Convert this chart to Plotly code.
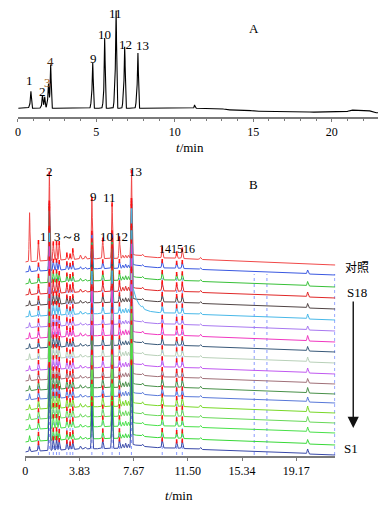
import numpy as np
import plotly.graph_objects as go

# ---------------- data: panel A (reference chromatogram) ----------------
a_times = [0.83, 1.57, 1.71, 1.95, 2.09, 4.77, 5.53, 6.26, 6.81, 7.65, 11.26]
a_heights = [16, 11.5, 11, 21, 41.6, 43, 67.6, 91, 57, 51.6, 3.3]
a_shoulders = [3, 2, 2, 5, 7, 9, 9, 23, 15, 12, 0]
a_labels = ["1", "2", "3", "4", "9", "10", "11", "12", "13"]
a_label_t = [0.75, 1.55, 1.88, 2.07, 4.79, 5.55, 6.25, 6.88, 7.95]
a_label_v = [28.3, 17.3, 26.3, 47.3, 50.3, 74.3, 95.3, 64.3, 63.3]
a_drift_t = [0, 12.9, 13.3, 14.7, 15.1, 18.3, 18.6, 20.9, 21.2, 22.3, 22.7, 22.95]
a_drift_v = [0, 0, -1.5, -1.8, -3.0, -3.0, -3.8, -3.8, -1.8, -1.8, -4.5, -4.5]
a_ticks = [0, 5, 10, 15, 20]

# ---------------- data: panel B (fingerprints) ----------------
b_names = ["对照", "S18", "S17", "S16", "S15", "S14", "S13", "S12", "S11", "S10",
           "S9", "S8", "S7", "S6", "S5", "S4", "S3", "S2", "S1"]
b_times = [0.93, 1.70, 1.98, 2.21, 2.40, 2.94, 3.17, 3.36, 4.71, 5.48,
           6.14, 6.66, 7.51, 9.69, 10.71, 11.11]
b_ref_heights = [19, 87, 17, 17, 17, 5, 4, 9, 60, 19, 54, 20, 87, 10, 5, 9]
b_sample_heights = [8, 85, 12, 12, 10, 8, 6, 8, 45, 9, 45, 9, 85, 9, 7, 8]
b_sample_scale = [0.8, 0.9, 1.0, 0.9, 1.0, 0.8, 1.1, 0.9, 1.0, 1.0,
                  0.9, 1.1, 1.0, 1.2, 1.1, 1.0, 0.9, 1.0]
b_spike_time = 0.30
b_spike_heights = [49, 6, 5, 6, 5, 6, 5, 6, 5, 6, 5, 6, 5, 6, 5, 6, 5, 6, 5]
b_minor_times = [3.9, 4.25, 6.9, 7.1, 7.3, 8.3, 12.4, 19.98]
b_minor_ref = [4, 3, 3, 3, 3, 2, 2, 0]
b_minor_sample = [3, 2, 4, 5, 4, 2, 2, 5]
b_drift_t = [0, 1, 4, 8, 11, 14, 17, 20, 21.95]
b_drift_v = [3, 4, 6, 7, 6.5, 4.5, 2.5, 1, 0]
b_extra_lines = [16.2, 17.1, 21.9]
b_tickvals = [0, 3.834, 7.668, 11.502, 15.336, 19.17]
b_ticktext = ["0", "3.83", "7.67", "11.50", "15.34", "19.17"]
b_labels = ["1", "2", "3～8", "9", "11", "10", "12", "13", "14", "15", "16"]
b_label_t = [1.26, 1.72, 2.98, 4.86, 5.98, 5.72, 6.78, 7.83, 9.87, 10.71, 11.55]
b_label_v = [219, 284, 219, 259, 258, 219, 219, 284, 206, 206, 206]

# ---------------- style ----------------
W, H = 384, 506
SERIF = "Liberation Serif, Times New Roman, serif"
b_colors = ["#f04848", "#3a58e0", "#38c038", "#e02828", "#504444", "#48b8e8",
            "#a878f0", "#f038c0", "#385878", "#b8d0b8", "#c058f0", "#a07078",
            "#489048", "#5878d8", "#78d828", "#68d858", "#48e048", "#38d838", "#3848a8"]
b_offsets = [190, 180, 168, 157, 146, 135, 124, 113, 103, 92, 81, 71, 61, 52, 42, 32, 22, 10, 0]


def gauss(t, c, h, s):
    return h * np.exp(-0.5 * ((t - c) / s) ** 2)


fig = go.Figure()

# ---- panel A curve ----
tA = np.arange(0.03, 22.95, 0.005)
yA = np.interp(tA, a_drift_t, a_drift_v)
for c, h, sh in zip(a_times, a_heights, a_shoulders):
    yA = yA + gauss(tA, c, h, 0.03)
    if sh:
        yA = yA + gauss(tA, c - 0.07, sh, 0.045)
fig.add_trace(go.Scatter(x=tA, y=yA, mode="lines", line=dict(color="#000", width=1.1),
                         xaxis="x", yaxis="y", hoverinfo="skip", showlegend=False))

# ---- panel B curves ----
tB = np.arange(0.0, 21.95, 0.01)
drift = np.interp(tB, b_drift_t, b_drift_v)
mk_x, mk_y = [], []
for i, (name, col, off) in enumerate(zip(b_names, b_colors, b_offsets)):
    if i == 0:
        heights = b_ref_heights
        minors = b_minor_ref
        sc = 1.0
    else:
        heights = b_sample_heights
        minors = b_minor_sample
        sc = b_sample_scale[i - 1]
    y = off + drift.copy()
    y = y + gauss(tB, b_spike_time, b_spike_heights[i], 0.03)
    for c, h in zip(b_times, heights):
        y = y + gauss(tB, c, h * sc, 0.035)
    for c, h in zip(b_minor_times, minors):
        y = y + gauss(tB, c, h * sc, 0.04)
    after = tB > b_times[12]
    y = y + np.where(after, 4 * np.exp(-(tB - b_times[12]) / 1.0), 0)
    if name == "S14":
        y = y + np.where(after, 30 * np.exp(-(tB - b_times[12]) / 0.35), 0)
    fig.add_trace(go.Scatter(x=tB, y=y, mode="lines", line=dict(color=col, width=1),
                             xaxis="x2", yaxis="y2", hoverinfo="skip", showlegend=False))
    for c, h in zip(b_times, heights):
        mk_x.append(c)
        mk_y.append(off + np.interp(c, b_drift_t, b_drift_v) + h * sc)

fig.add_trace(go.Scatter(x=mk_x, y=mk_y, mode="markers", xaxis="x2", yaxis="y2",
                         marker=dict(symbol="line-ns", size=3,
                                     line=dict(color="#ff1010", width=1.6)),
                         hoverinfo="skip", showlegend=False))

# dotted peak-alignment lines
shapes = []
for c in list(b_times) + b_extra_lines:
    shapes.append(dict(type="line", xref="x2", yref="y2", x0=c, x1=c, y0=0, y1=181,
                       line=dict(color="#8899ff", width=1, dash="dot"), layer="below"))

ann = []
for txt, t, v in zip(a_labels, a_label_t, a_label_v):
    color = "#9a5a20" if txt == "3" else ("#4a2a10" if txt == "4" else "#000")
    ann.append(dict(x=t, y=v, xref="x", yref="y", text=txt, showarrow=False,
                    xanchor="center", yanchor="middle",
                    font=dict(family=SERIF, size=13, color=color)))
for txt, t, v in zip(b_labels, b_label_t, b_label_v):
    ann.append(dict(x=t, y=v, xref="x2", yref="y2", text=txt, showarrow=False,
                    xanchor="center", yanchor="middle",
                    font=dict(family=SERIF, size=12 if txt in ("14", "15", "16") else 13,
                              color="#000")))


def px(x, y):
    return x / W, 1 - y / H


for txt, (x, y), fam in [("A", (253, 28), SERIF), ("B", (252, 184), SERIF),
                         ("<i>t</i>/min", (188, 147), SERIF), ("<i>t</i>/min", (177, 495), SERIF),
                         ("对照", (357, 266), "Noto Sans CJK SC"), ("S18", (357, 292), SERIF),
                         ("S1", (351, 448), SERIF)]:
    X, Y = px(x, y)
    ann.append(dict(x=X, y=Y, xref="paper", yref="paper", text=txt, showarrow=False,
                    xanchor="center", yanchor="middle",
                    font=dict(family=fam, size=13 if fam == SERIF else 12, color="#000")))

X1, Y1 = px(353, 428)
ann.append(dict(x=X1, y=Y1, ax=0, ay=-128, xref="paper", yref="paper", axref="pixel",
                ayref="pixel", text="", showarrow=True, arrowhead=2, arrowsize=1.6,
                arrowwidth=1.4, arrowcolor="#111"))

axis_common = dict(showline=True, linecolor="#7a7a7a", linewidth=2, ticks="outside",
                   ticklen=3, tickcolor="#7a7a7a", showgrid=False, zeroline=False,
                   tickfont=dict(family=SERIF, size=12, color="#000"))

fig.update_layout(
    width=W, height=H, margin=dict(l=0, r=0, t=0, b=0),
    paper_bgcolor="white", plot_bgcolor="white",
    xaxis=dict(domain=[15 / W, 378 / W], range=[0, 22.95], anchor="y",
               tickmode="array", tickvals=a_ticks,
               minor=dict(tickmode="linear", tick0=0, dtick=1, ticks="outside",
                          ticklen=2, tickcolor="#7a7a7a"),
               **axis_common),
    yaxis=dict(domain=[1 - 117 / H, 1 - 5 / H], range=[-8.7, 103.3], visible=False),
    xaxis2=dict(domain=[22.5 / W, 335 / W], range=[0, 21.945], anchor="y2",
                tickmode="array", tickvals=b_tickvals, ticktext=b_ticktext,
                **axis_common),
    yaxis2=dict(domain=[1 - 456 / H, 1 - 170 / H], range=[-1, 285], visible=False),
    shapes=shapes, annotations=ann,
)

fig.write_html("out.html", config={"displayModeBar": False},
               post_script="document.body.style.margin='0px';")
